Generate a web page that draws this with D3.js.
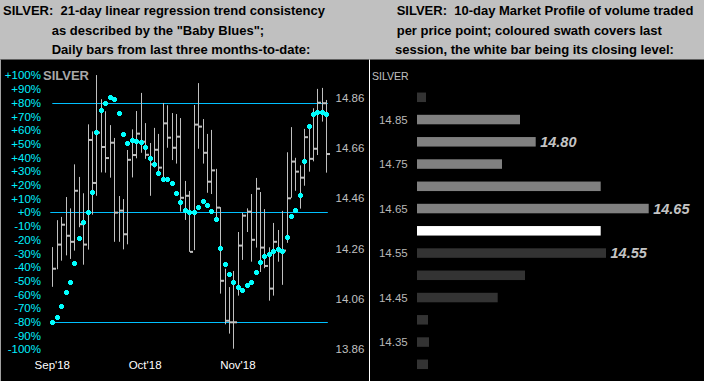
<!DOCTYPE html>
<html><head><meta charset="utf-8">
<script src="https://cdn.jsdelivr.net/npm/d3@7"></script>
<style>body{margin:0;background:#000;} svg{display:block;}</style>
</head><body>
<script>
// ---------- DATA ----------
const high=[14.266,14.373,14.386,14.465,14.420,14.595,14.545,14.480,14.754,14.726,
14.950,14.854,14.806,14.751,14.700,14.469,14.457,14.652,14.734,14.807,
14.879,14.759,14.680,14.740,14.716,14.839,14.830,14.799,14.795,14.779,
14.529,14.489,14.831,14.918,14.775,14.716,14.732,14.577,14.425,14.180,
14.107,14.171,14.326,14.402,14.420,14.477,14.541,14.485,14.417,14.265,
14.362,14.334,14.410,14.643,14.743,14.621,14.591,14.736,14.736,14.818,
14.895,14.899,14.851];
const low=[14.108,14.178,14.212,14.233,14.219,14.252,14.345,14.196,14.256,14.395,
14.470,14.563,14.562,14.542,14.287,14.287,14.257,14.277,14.543,14.619,
14.641,14.617,14.470,14.582,14.559,14.540,14.661,14.612,14.598,14.407,
14.374,14.247,14.254,14.657,14.598,14.482,14.477,14.370,14.081,13.959,
13.922,13.862,14.073,14.215,14.326,14.208,14.264,14.167,14.182,14.053,
14.073,14.208,14.116,14.283,14.462,14.490,14.419,14.510,14.566,14.607,
14.632,14.765,14.562];
const close=[14.180,14.276,14.355,14.311,14.287,14.490,14.357,14.276,14.692,14.521,
14.721,14.664,14.620,14.681,14.403,14.411,14.317,14.613,14.632,14.717,
14.685,14.633,14.595,14.653,14.582,14.758,14.701,14.661,14.705,14.462,
14.470,14.247,14.753,14.745,14.641,14.526,14.571,14.423,14.132,13.973,
13.967,13.967,14.272,14.391,14.407,14.295,14.498,14.264,14.191,14.101,
14.287,14.248,14.252,14.460,14.606,14.566,14.542,14.703,14.617,14.657,
14.840,14.838,14.636];
const babyBlues=[-80.1,-76.4,-68.4,-58.2,-50.9,-37.0,-18.8,-7.1,0.2,14.8,
58.6,74.7,79.8,84.2,82.7,72.5,57.2,50.6,52.8,52.1,
51.5,47.7,39.6,35.5,28.7,24.5,24.5,21.4,14.1,7.5,
1.7,0.2,0.2,3.9,8.2,5.3,0.9,-4.9,-26.1,-37.7,
-45.0,-50.6,-54.5,-56.5,-52.8,-50.6,-43.4,-36.0,-31.7,-30.2,
-28.0,-26.6,-28.0,-17.8,-2.5,1.9,12.8,37.7,63.2,72.0,
73.4,73.4,72.0];
const pctTicks=[100,90,80,70,60,50,40,30,20,10,0,-10,-20,-30,-40,-50,-60,-70,-80,-90,-100];
const bandLevels=[80,0,-80];
const priceTicks=[14.86,14.66,14.46,14.26,14.06,13.86];
const monthLabels=["Sep'18","Oct'18","Nov'18"];
const monthIndex=[0,21,42];

const profilePrices=[14.90,14.85,14.80,14.75,14.70,14.65,14.60,14.55,14.50,14.45,14.40,14.35,14.30];
const profileVolume=[9,103,118.7,85,183.7,231.7,183.7,189,108,80.7,11,12,11];
const profileSession=["prior","last","last","last","last","last","close","prior","prior","prior","prior","prior","prior"];
const profileAxisLabels=[14.85,14.75,14.65,14.55,14.45,14.35];
const profileCallouts=[14.80,14.65,14.55];

const leftTitle=["SILVER:  21-day linear regression trend consistency","as described by the \"Baby Blues\";","Daily bars from last three months-to-date:"];
const rightTitle=["SILVER:  10-day Market Profile of volume traded","per price point; coloured swath covers last","session, the white bar being its closing level:"];

// ---------- DRAW ----------
const W=704,H=381;
const svg=d3.select("body").append("svg").attr("width",W).attr("height",H);
const FONT="'Liberation Sans', Arial, sans-serif";

svg.append("rect").attr("x",0).attr("y",0).attr("width",W).attr("height",H).attr("fill","#000");
svg.append("rect").attr("x",0).attr("y",0).attr("width",W).attr("height",59.5).attr("fill","#c0c0c0");
// borders
svg.append("line").attr("x1",0.5).attr("x2",0.5).attr("y1",59.5).attr("y2",H).attr("stroke","#a0a0a0");
svg.append("line").attr("x1",369.5).attr("x2",369.5).attr("y1",59.5).attr("y2",H).attr("stroke","#fff");

// titles
const tx=[[3,51.7,51.7],[396.7,396.7,395]];
const ty=[15,34.5,54];
[leftTitle,rightTitle].forEach((lines,k)=>{
  svg.append("g").selectAll("text").data(lines).join("text")
    .attr("x",(d,i)=>tx[k][i]).attr("y",(d,i)=>ty[i])
    .attr("font-family",FONT).attr("font-weight","bold").attr("font-size",13)
    .attr("fill","#000").style("white-space","pre").attr("xml:space","preserve").text(d=>d);
});

// ---- left chart ----
const x=d3.scaleLinear().domain([0,62]).range([52.3,326.3]);
const yPct=d3.scaleLinear().domain([-100,100]).range([349.3,75.3]);
const yPrice=d3.scaleLinear().domain([13.86,14.86]).range([349.2,97.7]);

const L=svg.append("g");
L.selectAll("text.pct").data(pctTicks).join("text").attr("class","pct")
  .attr("x",41).attr("y",d=>yPct(d)).attr("dy","0.36em").attr("text-anchor","end")
  .attr("font-family",FONT).attr("font-size",11.5).attr("fill","#00f0ff")
  .text(d=>(d>=0?"+":"")+d+"%");

L.append("text").attr("x",43).attr("y",yPct(100)).attr("dy","0.36em")
  .attr("font-family",FONT).attr("font-weight","bold").attr("font-size",13).attr("fill","#a8a8a8").text("SILVER");

L.selectAll("line.band").data(bandLevels).join("line").attr("class","band")
  .attr("x1",d=>d===0?x(0)-2:x(0)).attr("x2",x(62)+1.5)
  .attr("y1",d=>Math.round(yPct(d))+0.5).attr("y2",d=>Math.round(yPct(d))+0.5)
  .attr("stroke","#00c0ff").attr("stroke-width",1);

const idx=d3.range(high.length);
L.selectAll("line.bar").data(idx).join("line").attr("class","bar")
  .attr("x1",i=>Math.round(x(i))+0.5).attr("x2",i=>Math.round(x(i))+0.5)
  .attr("y1",i=>yPrice(high[i])).attr("y2",i=>yPrice(low[i]))
  .attr("stroke","#c0c0c0").attr("stroke-width",1);
L.selectAll("rect.cl").data(idx).join("rect").attr("class","cl")
  .attr("x",i=>Math.round(x(i))+1).attr("y",i=>yPrice(close[i])-1)
  .attr("width",3).attr("height",2).attr("fill","#c0c0c0");

const blob="M-1.5,-2.5h3v1h1v3h-1v1h-3v-1h-1v-3h1z";
L.selectAll("path.bb").data(idx).join("path").attr("class","bb")
  .attr("transform",i=>`translate(${Math.round(x(i))+0.5},${Math.round(yPct(babyBlues[i]))+0.5})`)
  .attr("d",blob).attr("fill","#00ffff");

L.selectAll("text.pr").data(priceTicks).join("text").attr("class","pr")
  .attr("x",335.5).attr("y",d=>yPrice(d)).attr("dy","0.36em")
  .attr("font-family",FONT).attr("font-size",11.5).attr("fill","#c0c0c0").text(d=>d.toFixed(2));

L.selectAll("text.mo").data(monthLabels).join("text").attr("class","mo")
  .attr("x",(d,i)=>x(monthIndex[i])).attr("y",365).attr("dy","0.36em").attr("text-anchor","middle")
  .attr("font-family",FONT).attr("font-size",11.5).attr("fill","#fff").text(d=>d);

// ---- right chart ----
const yProf=d3.scaleLinear().domain([14.90,14.30]).range([97.3,364.3]);
const xProf=d3.scaleLinear().domain([0,231.7]).range([417,648.7]);
const colorBy={prior:"#333333",last:"#808080",close:"#ffffff"};
const R=svg.append("g");
R.append("text").attr("x",372).attr("y",76).attr("dy","0.36em")
  .attr("font-family",FONT).attr("font-size",10.5).attr("fill","#c0c0c0").text("SILVER");
R.selectAll("rect.pb").data(profilePrices).join("rect").attr("class","pb")
  .attr("x",xProf(0)).attr("y",d=>yProf(d)-4.75).attr("height",9.5)
  .attr("width",(d,i)=>xProf(profileVolume[i])-xProf(0))
  .attr("fill",(d,i)=>colorBy[profileSession[i]]);
R.selectAll("text.pl").data(profileAxisLabels).join("text").attr("class","pl")
  .attr("x",407.7).attr("y",d=>yProf(d)).attr("dy","0.36em").attr("text-anchor","end")
  .attr("font-family",FONT).attr("font-size",11.5).attr("fill","#b8b8b8").text(d=>d.toFixed(2));
R.selectAll("text.co").data(profileCallouts).join("text").attr("class","co")
  .attr("x",d=>{const i=profilePrices.findIndex(p=>Math.abs(p-d)<1e-6);return xProf(profileVolume[i])+4.5;})
  .attr("y",d=>yProf(d)).attr("dy","0.36em")
  .attr("font-family",FONT).attr("font-weight","bold").attr("font-style","italic").attr("font-size",14.5)
  .attr("fill","#c4c4c4").text(d=>d.toFixed(2));
</script>
</body></html>
